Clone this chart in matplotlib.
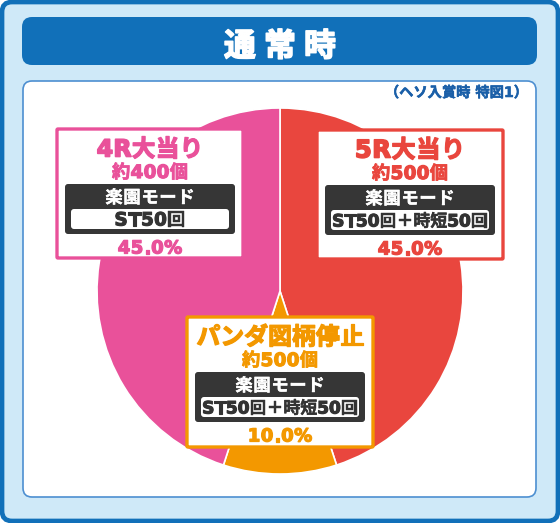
import matplotlib
matplotlib.use("Agg")
import matplotlib.pyplot as plt
from matplotlib.patches import FancyBboxPatch
from matplotlib.font_manager import FontProperties
import matplotlib.patheffects as pe

plt.rcParams['font.family'] = ['Noto Sans CJK JP', 'DejaVu Sans']

# ---- data ----
title = "通常時"
note = "（ヘソ入賞時 特図1）"
categories = ["5R大当り", "パンダ図柄停止", "4R大当り"]
shares = [45.0, 10.0, 45.0]
balls = ["約500個", "約500個", "約400個"]
modes = ["楽園モード", "楽園モード", "楽園モード"]
details = ["ST50回＋時短50回", "ST50回＋時短50回", "ST50回"]
colors = ["#e9463e", "#f39800", "#e9519a"]

W, H = 560, 523
fig = plt.figure(figsize=(W / 100, H / 100), dpi=100)
ax = fig.add_axes([0, 0, 1, 1])
renderer = fig.canvas.get_renderer()

BLUE = "#1170b9"
LIGHT = "#cfe9f8"
DARK = "#363636"


def rbox(x0, y0, x1, y1, r, fc, ec="none", lw=0, z=1):
    p = FancyBboxPatch((x0, y0), x1 - x0, y1 - y0,
                       boxstyle=f"round,pad=0,rounding_size={r}",
                       fc=fc, ec=ec, lw=lw, zorder=z)
    ax.add_patch(p)
    return p


def fprop(ch, size):
    if ord(ch) < 0x2000:
        return FontProperties(family="DejaVu Sans", weight="bold", size=size)
    return FontProperties(family="Noto Sans CJK JP", weight="bold", size=size)


def tracked(cx, base, s, size, track, color, z=6, ha="center", stroke=0.9,
            cjk_stroke=None):
    if cjk_stroke is None:
        cjk_stroke = stroke
    props = [fprop(ch, size) for ch in s]
    widths = [renderer.get_text_width_height_descent(ch, fp, ismath=False)[0]
              for ch, fp in zip(s, props)]
    total = sum(widths) + track * (len(s) - 1)
    x = cx - total / 2 if ha == "center" else cx - total
    for ch, fp, w in zip(s, props, widths):
        lw = stroke if ord(ch) < 0x2000 else cjk_stroke
        eff = [pe.withStroke(linewidth=lw, foreground=color)] if lw else None
        ax.text(x, base, ch, fontproperties=fp, color=color, ha="left",
                va="baseline", zorder=z, path_effects=eff)
        x += w + track

# frame
rbox(2, 2, W - 2, H - 2, 10, LIGHT, BLUE, 3.4, z=0)
# header
rbox(22, 17, 537, 65, 10, BLUE, z=1)
tracked(280, 56, title, 23, 8, "white", z=5, stroke=1.1)
# panel
rbox(23, 81, 536, 497, 9, "white", "#4d8fd1", 1.2, z=1)
tracked(528, 97, note, 10.3, 0, "#1a5fa8", z=5, ha="right", stroke=0.4)

# pie
wedges, _ = ax.pie(shares, colors=colors, startangle=-90, counterclock=True,
                   center=(280, 291), radius=183,
                   wedgeprops=dict(edgecolor="white", linewidth=1.2))
for w in wedges:
    w.set_zorder(2)

ax.set_xlim(0, W)
ax.set_ylim(H, 0)
ax.set_aspect("auto")
ax.axis("off")

# label boxes: (x0, y0, x1, y1)
boxes = [(317, 130, 503, 259), (187, 317, 373, 447), (57, 129, 243, 258)]
title_fmt = [(17.5, 0.5), (17.2, 0.0), (17.0, 0.3)]
detail_fmt = [(12.3, -0.2), (12.3, -0.2), (13.2, 0.3)]
for k in range(3):
    x0, y0, x1, y1 = boxes[k]
    cx = (x0 + x1) / 2
    c = colors[k]
    rbox(x0, y0, x1, y1, 1, "white", c, 2.4, z=3)
    tracked(cx, y0 + 27.5, categories[k], title_fmt[k][0], title_fmt[k][1], c,
            stroke=1.2, cjk_stroke=0.9)
    tracked(cx, y0 + 49, balls[k], 13.2, 0.3, c, stroke=0.9, cjk_stroke=0.5)
    rbox(x0 + 8, y0 + 55, x1 - 8, y0 + 105, 3, DARK, z=4)
    tracked(cx, y0 + 74, modes[k], 12.5, 0.6, "white", stroke=0.3)
    rbox(x0 + 14, y0 + 80, x1 - 14, y0 + 100, 3, "white", z=5)
    tracked(cx, y0 + 96.5, details[k], detail_fmt[k][0], detail_fmt[k][1],
            "#333333", stroke=0.8, cjk_stroke=0.3)
    tracked(cx, y0 + 124.5, f"{shares[k]:.1f}%", 13, 0.5, c)

fig.savefig("out.png", dpi=100)
